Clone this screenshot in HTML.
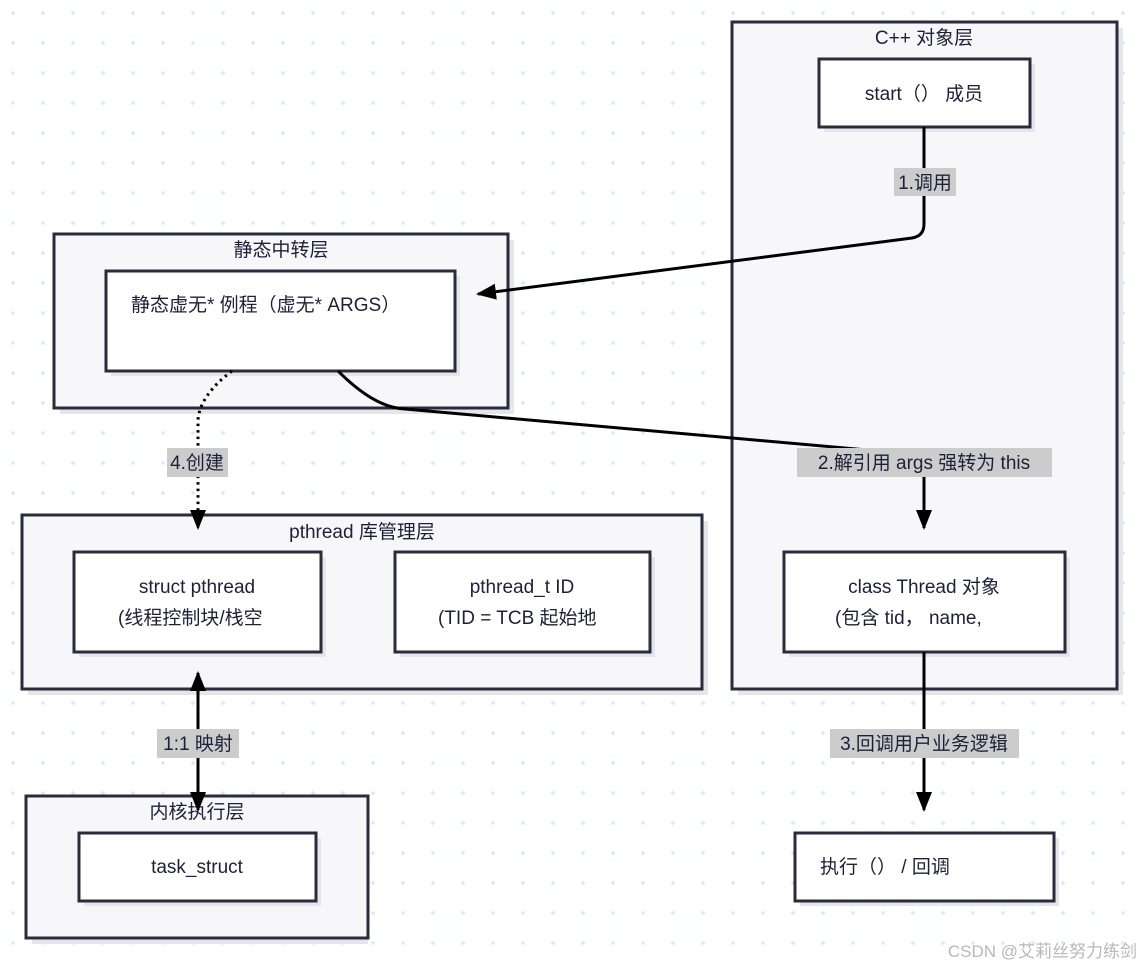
<!DOCTYPE html>
<html><head><meta charset="utf-8"><style>
html,body{margin:0;padding:0;background:#fff;}
body{width:1141px;height:971px;overflow:hidden;
background-image:radial-gradient(circle,#d6ecef 1.6px,transparent 2px);
background-size:30px 30px;background-position:-2px -2px;}
svg{position:absolute;left:0;top:0;}
text{font-family:"Liberation Sans","Noto Sans CJK SC",sans-serif;font-size:19px;fill:#1f1f3a;}
.c{fill:#f7f7f9;stroke:#2b2b3d;stroke-width:3;}
.n{fill:#fff;stroke:#2b2b3d;stroke-width:3;}
.sh{fill:#e6e6ea;}
.e{fill:none;stroke:#000;stroke-width:3;}
.lb{fill:#cccccc;}
</style></head><body>
<svg width="1141" height="971" viewBox="0 0 1141 971">
<defs><marker id="a" markerWidth="10" markerHeight="10" refX="5" refY="5" orient="auto" markerUnits="userSpaceOnUse" viewBox="0 0 10 10">
<path d="M0,0 L10,5 L0,10 z" fill="#000"/></marker>
<marker id="ar" viewBox="0 0 20 20" refX="18" refY="10" markerWidth="20" markerHeight="20" orient="auto-start-reverse" markerUnits="userSpaceOnUse"><path d="M0,2 L20,10 L0,18 z" fill="#000"/></marker></defs>

<!-- clusters -->
<rect class="sh" x="738" y="28" width="385" height="667"/>
<rect class="c" x="732" y="22" width="385" height="667"/>
<rect class="sh" x="60" y="240" width="454" height="174"/>
<rect class="c" x="54" y="234" width="454" height="174"/>
<rect class="sh" x="28" y="521" width="680" height="174"/>
<rect class="c" x="22" y="515" width="680" height="174"/>
<rect class="sh" x="32" y="802" width="336" height="142"/>
<rect class="c" x="26" y="796" width="342" height="142"/>

<text x="924" y="44" text-anchor="middle">C++ 对象层</text>
<text x="281" y="256" text-anchor="middle">静态中转层</text>
<text x="362" y="538" text-anchor="middle">pthread 库管理层</text>
<text x="197" y="818" text-anchor="middle">内核执行层</text>

<!-- nodes -->
<rect class="sh" x="824" y="64" width="211" height="68"/>
<rect class="n" x="819" y="59" width="211" height="68"/>
<text x="924" y="100" text-anchor="middle">start（） 成员</text>

<rect class="sh" x="111" y="276" width="349" height="100"/>
<rect class="n" x="106" y="271" width="349" height="100"/>
<text x="131" y="311">静态虚无* 例程（虚无* ARGS）</text>

<rect class="sh" x="789" y="557" width="281" height="100"/>
<rect class="n" x="784" y="552" width="281" height="100"/>
<text x="924" y="593" text-anchor="middle">class Thread 对象</text>
<text x="835" y="624">(包含 tid， name,</text>

<rect class="sh" x="79" y="557" width="247" height="100"/>
<rect class="n" x="74" y="552" width="247" height="100"/>
<text x="197" y="593" text-anchor="middle">struct pthread</text>
<text x="118" y="624">(线程控制块/栈空</text>

<rect class="sh" x="400" y="557" width="255" height="100"/>
<rect class="n" x="395" y="552" width="255" height="100"/>
<text x="522" y="593" text-anchor="middle">pthread_t ID</text>
<text x="438" y="624">(TID = TCB 起始地</text>

<rect class="sh" x="84" y="838" width="237" height="68"/>
<rect class="n" x="79" y="833" width="237" height="68"/>
<text x="197" y="873" text-anchor="middle">task_struct</text>

<rect class="sh" x="800" y="838" width="259" height="68"/>
<rect class="n" x="795" y="833" width="259" height="68"/>
<text x="820" y="873">执行（） / 回调</text>

<!-- edges -->
<path class="e" d="M924,127 L924,224 Q924,236 912,238 L478,294" marker-end="url(#ar)"/>
<path class="e" d="M338,371 Q375,408 405,409 L924,455 L924,528" marker-end="url(#ar)"/>
<path class="e" d="M232,371 Q200,395 198,420 L198,528" stroke-dasharray="2.5,4" marker-end="url(#ar)"/>
<path class="e" d="M924,652 L924,810" marker-end="url(#ar)"/>
<path class="e" d="M198,673 L198,810" stroke-width="4.5" marker-start="url(#ar)" marker-end="url(#ar)"/>

<!-- labels -->
<rect class="lb" x="894" y="168" width="62" height="28"/>
<text x="925" y="189" text-anchor="middle">1.调用</text>
<rect class="lb" x="797" y="448" width="255" height="29"/>
<text x="924" y="469" text-anchor="middle">2.解引用 args 强转为 this</text>
<rect class="lb" x="167" y="448" width="61" height="29"/>
<text x="197" y="469" text-anchor="middle">4.创建</text>
<rect class="lb" x="830" y="729" width="189" height="29"/>
<text x="924" y="750" text-anchor="middle">3.回调用户业务逻辑</text>
<rect class="lb" x="157" y="729" width="82" height="29"/>
<text x="198" y="750" text-anchor="middle">1:1 映射</text>

<text x="1137" y="957" text-anchor="end" style="fill:#b8b8b8;font-size:17px">CSDN @艾莉丝努力练剑</text>
</svg>
</body></html>
